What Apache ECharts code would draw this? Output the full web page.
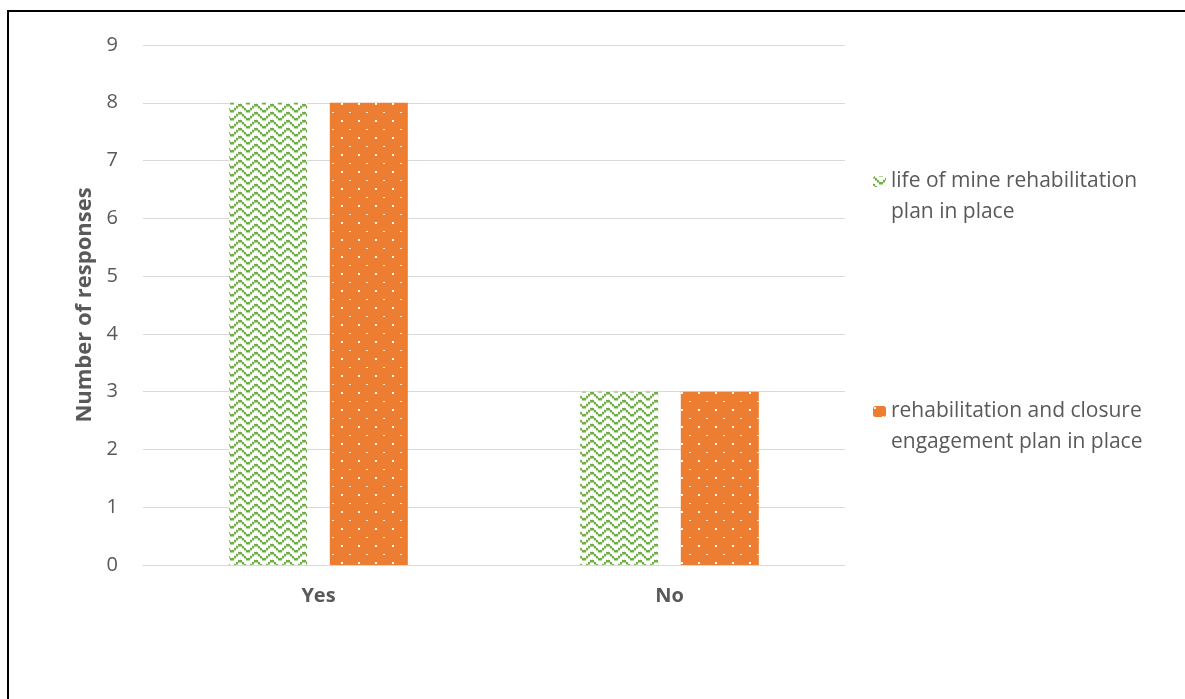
<!DOCTYPE html>
<html>
<head>
<meta charset="utf-8">
<script src="https://cdn.jsdelivr.net/npm/echarts@6/dist/echarts.min.js"></script>
<style>
  html, body { margin: 0; padding: 0; background: #fff; }
  #chart { width: 1185px; height: 699px; }
</style>
</head>
<body>
<div id="chart"></div>
<script>
// Survey answers per category
const categories = ['Yes', 'No'];
const seriesNames = [
  'life of mine rehabilitation\nplan in place',
  'rehabilitation and closure\nengagement plan in place'
];
const lifeOfMinePlan = [8, 3];
const closureEngagementPlan = [8, 3];
const yTicks = { min: 0, max: 9, interval: 1 };

// Green zigzag hatch on white, drawn as 2x2 pixel blocks
function zigzagTile() {
  const c = document.createElement('canvas');
  c.width = 16; c.height = 8;
  const g = c.getContext('2d');
  g.fillStyle = '#ffffff';
  g.fillRect(0, 0, 16, 8);
  const rows = [0, 1, 2, 3, 3, 2, 1, 0];
  for (let i = 0; i < 8; i++) {
    const ox = i * 2, oy = rows[i] * 2;
    g.fillStyle = '#70AD47';
    g.fillRect(ox, oy, 2, 2);
    g.fillStyle = '#B4D79C';
    g.fillRect(ox, (oy + 2) % 8, 2, 1);
    g.fillStyle = '#D5E8C8';
    g.fillRect(ox, (oy + 7) % 8, 1, 1);
  }
  return c;
}

// Orange fill with sparse white dots
function dotTile() {
  const c = document.createElement('canvas');
  c.width = 17; c.height = 17;
  const g = c.getContext('2d');
  g.fillStyle = '#ED7D31';
  g.fillRect(0, 0, 17, 17);
  g.fillStyle = '#ffffff';
  g.fillRect(1, 1, 2, 2);
  g.fillStyle = 'rgba(255,255,255,0.85)';
  g.fillRect(9, 10, 2, 1);
  return c;
}

const greenFill = { image: zigzagTile(), repeat: 'repeat' };
const orangeFill = { image: dotTile(), repeat: 'repeat' };

const fontFamily = '"Open Sans", Lato, sans-serif';
const textGrey = '#595959';

const legendText = {
  color: textGrey,
  fontFamily: fontFamily,
  fontSize: 21,
  lineHeight: 31
};
// A blank first line keeps the swatch level with the first line of the label
const legendLabel = name => ' \n' + name;

const chart = echarts.init(document.getElementById('chart'), null, { renderer: 'canvas' });

chart.setOption({
  backgroundColor: '#ffffff',
  animation: false,
  graphic: [{
    type: 'rect',
    shape: { x: 8, y: 11, width: 1300, height: 800 },
    style: { fill: 'none', stroke: '#000000', lineWidth: 2 },
    silent: true,
    z: 100
  }],
  grid: { left: 143, right: 340, top: 45, bottom: 134 },
  legend: [{
    data: [seriesNames[0]],
    left: 873, top: 135,
    padding: 0,
    orient: 'vertical',
    itemWidth: 13, itemHeight: 11, itemGap: 0,
    formatter: legendLabel,
    textStyle: legendText,
    selectedMode: false
  }, {
    data: [seriesNames[1]],
    left: 873, top: 365,
    padding: 0,
    orient: 'vertical',
    itemWidth: 13, itemHeight: 11, itemGap: 0,
    formatter: legendLabel,
    textStyle: legendText,
    selectedMode: false
  }],
  xAxis: {
    type: 'category',
    data: categories,
    axisLine: { show: true, lineStyle: { color: '#D9D9D9', width: 1 } },
    axisTick: { show: false },
    axisLabel: {
      color: textGrey, fontFamily: fontFamily, fontSize: 20, fontWeight: 'bold', margin: 21
    }
  },
  yAxis: {
    type: 'value',
    min: yTicks.min, max: yTicks.max, interval: yTicks.interval,
    name: 'Number of responses',
    nameLocation: 'middle',
    nameGap: 43,
    nameTextStyle: { color: textGrey, fontFamily: fontFamily, fontSize: 22, fontWeight: 'bold' },
    axisLine: { show: false },
    axisTick: { show: false },
    axisLabel: { color: textGrey, fontFamily: fontFamily, fontSize: 20, margin: 25 },
    splitLine: { lineStyle: { color: '#D9D9D9', width: 1 } }
  },
  series: [{
    name: seriesNames[0],
    type: 'bar',
    data: lifeOfMinePlan,
    barWidth: 78,
    barGap: '29%',
    itemStyle: { color: greenFill }
  }, {
    name: seriesNames[1],
    type: 'bar',
    data: closureEngagementPlan,
    barWidth: 78,
    barGap: '29%',
    itemStyle: { color: orangeFill }
  }]
});
</script>
</body>
</html>
